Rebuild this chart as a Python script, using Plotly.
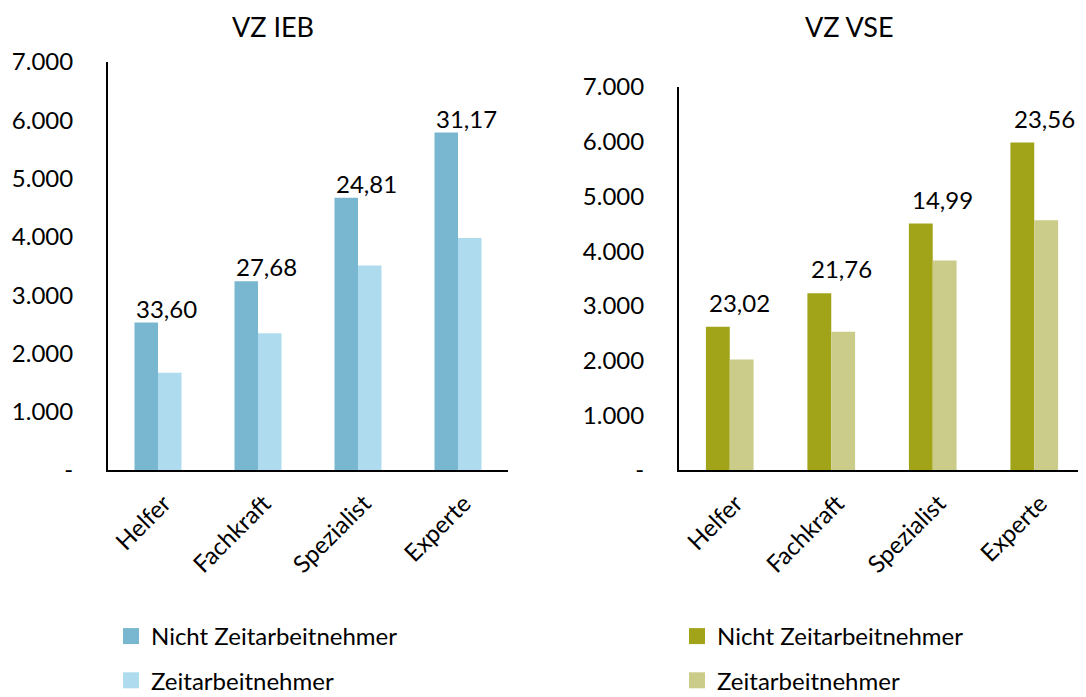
import plotly.graph_objects as go

categories = ["Helfer", "Fachkraft", "Spezialist", "Experte"]

ieb_nicht_zeit = [2530, 3240, 4670, 5790]
ieb_zeit = [1670, 2345, 3510, 3980]
ieb_labels = ["33,60", "27,68", "24,81", "31,17"]

vse_nicht_zeit = [2620, 3230, 4505, 5985]
vse_zeit = [2020, 2525, 3830, 4565]
vse_labels = ["23,02", "21,76", "14,99", "23,56"]

tick_vals = [0, 1000, 2000, 3000, 4000, 5000, 6000, 7000]
tick_text = ["-", "1.000", "2.000", "3.000", "4.000", "5.000", "6.000", "7.000"]

series_names = ["Nicht Zeitarbeitnehmer", "Zeitarbeitnehmer"]
titles = ["VZ IEB", "VZ VSE"]

C_BLUE_D = "#78B7CF"
C_BLUE_L = "#AEDCEE"
C_OLIVE_D = "#A1A419"
C_OLIVE_L = "#CCCC8A"

FONT = "Lato, 'Open Sans', sans-serif"
W, H = 1086, 697
OFF = 8  # page body margin


def px(x):
    return (x - OFF) / W


def py(y):
    return 1 - (y - OFF) / H


fig = go.Figure()

# left panel bars
fig.add_trace(go.Bar(x=categories, y=ieb_nicht_zeit, marker_color=C_BLUE_D, marker_line_width=0,
                     xaxis="x", yaxis="y", showlegend=False))
fig.add_trace(go.Bar(x=categories, y=ieb_zeit, marker_color=C_BLUE_L, marker_line_width=0,
                     xaxis="x", yaxis="y", showlegend=False))
# right panel bars
fig.add_trace(go.Bar(x=categories, y=vse_nicht_zeit, marker_color=C_OLIVE_D, marker_line_width=0,
                     xaxis="x2", yaxis="y2", showlegend=False))
fig.add_trace(go.Bar(x=categories, y=vse_zeit, marker_color=C_OLIVE_L, marker_line_width=0,
                     xaxis="x2", yaxis="y2", showlegend=False))

# legend entries
for i, (name, col) in enumerate(zip(series_names, [C_BLUE_D, C_BLUE_L])):
    fig.add_trace(go.Scatter(x=[None], y=[None], mode="markers", name=name,
                             marker=dict(symbol="square", size=17, color=col),
                             legend="legend", legendgroup=f"l{i}", xaxis="x", yaxis="y"))
for i, (name, col) in enumerate(zip(series_names, [C_OLIVE_D, C_OLIVE_L])):
    fig.add_trace(go.Scatter(x=[None], y=[None], mode="markers", name=name,
                             marker=dict(symbol="square", size=17, color=col),
                             legend="legend2", legendgroup=f"r{i}", xaxis="x2", yaxis="y2"))

annotations = []
for cat, val, lab in zip(categories, ieb_nicht_zeit, ieb_labels):
    annotations.append(dict(x=cat, y=val, xref="x", yref="y", text=lab, showarrow=False,
                            xanchor="center", yanchor="bottom", xshift=8, yshift=-2,
                            font=dict(size=24, color="black", family=FONT)))
for cat, val, lab in zip(categories, vse_nicht_zeit, vse_labels):
    annotations.append(dict(x=cat, y=val, xref="x2", yref="y2", text=lab, showarrow=False,
                            xanchor="center", yanchor="bottom", xshift=10, yshift=8,
                            font=dict(size=24, color="black", family=FONT)))
annotations.append(dict(x=(273 - 8) / W, y=1 - 18 / H, xref="paper", yref="paper", text=titles[0],
                        showarrow=False, xanchor="center", yanchor="middle",
                        font=dict(size=27, color="black", family=FONT)))
annotations.append(dict(x=(849 - 8) / W, y=1 - 18 / H, xref="paper", yref="paper", text=titles[1],
                        showarrow=False, xanchor="center", yanchor="middle",
                        font=dict(size=27, color="black", family=FONT)))

axis_common_x = dict(showline=True, linecolor="black", linewidth=2, ticks="", showgrid=False,
                     tickangle=-45, tickfont=dict(size=24, color="black", family=FONT),
                     zeroline=False, automargin=False, ticklabelstandoff=8, ticklabelshift=6)
axis_common_y = dict(showline=True, linecolor="black", linewidth=2, ticks="", showgrid=False,
                     range=[0, 7000], tickvals=tick_vals, ticktext=tick_text,
                     tickfont=dict(size=24, color="black", family=FONT), zeroline=False,
                     ticklabelstandoff=28, automargin=False)

fig.update_layout(
    width=W, height=H,
    margin=dict(l=0, r=0, t=0, b=0, autoexpand=False),
    paper_bgcolor="white", plot_bgcolor="white",
    barmode="group", bargap=0.53, bargroupgap=0,
    font=dict(family=FONT, size=24, color="black"),
    xaxis=dict(domain=[px(108), px(508)], anchor="y", **axis_common_x),
    yaxis=dict(domain=[py(470), py(62)], anchor="x", **axis_common_y),
    xaxis2=dict(domain=[px(679), px(1085)], anchor="y2", **axis_common_x),
    yaxis2=dict(domain=[py(470), py(87)], anchor="x2", **axis_common_y),
    legend=dict(x=103 / W, y=1 - 606 / H, xanchor="left", yanchor="top",
                font=dict(size=24, color="black", family=FONT),
                tracegroupgap=10, bgcolor="rgba(0,0,0,0)", itemsizing="trace"),
    legend2=dict(x=669 / W, y=1 - 606 / H, xanchor="left", yanchor="top",
                 font=dict(size=24, color="black", family=FONT),
                 tracegroupgap=10, bgcolor="rgba(0,0,0,0)", itemsizing="trace"),
    annotations=annotations,
)

fig.write_html("out.html")
